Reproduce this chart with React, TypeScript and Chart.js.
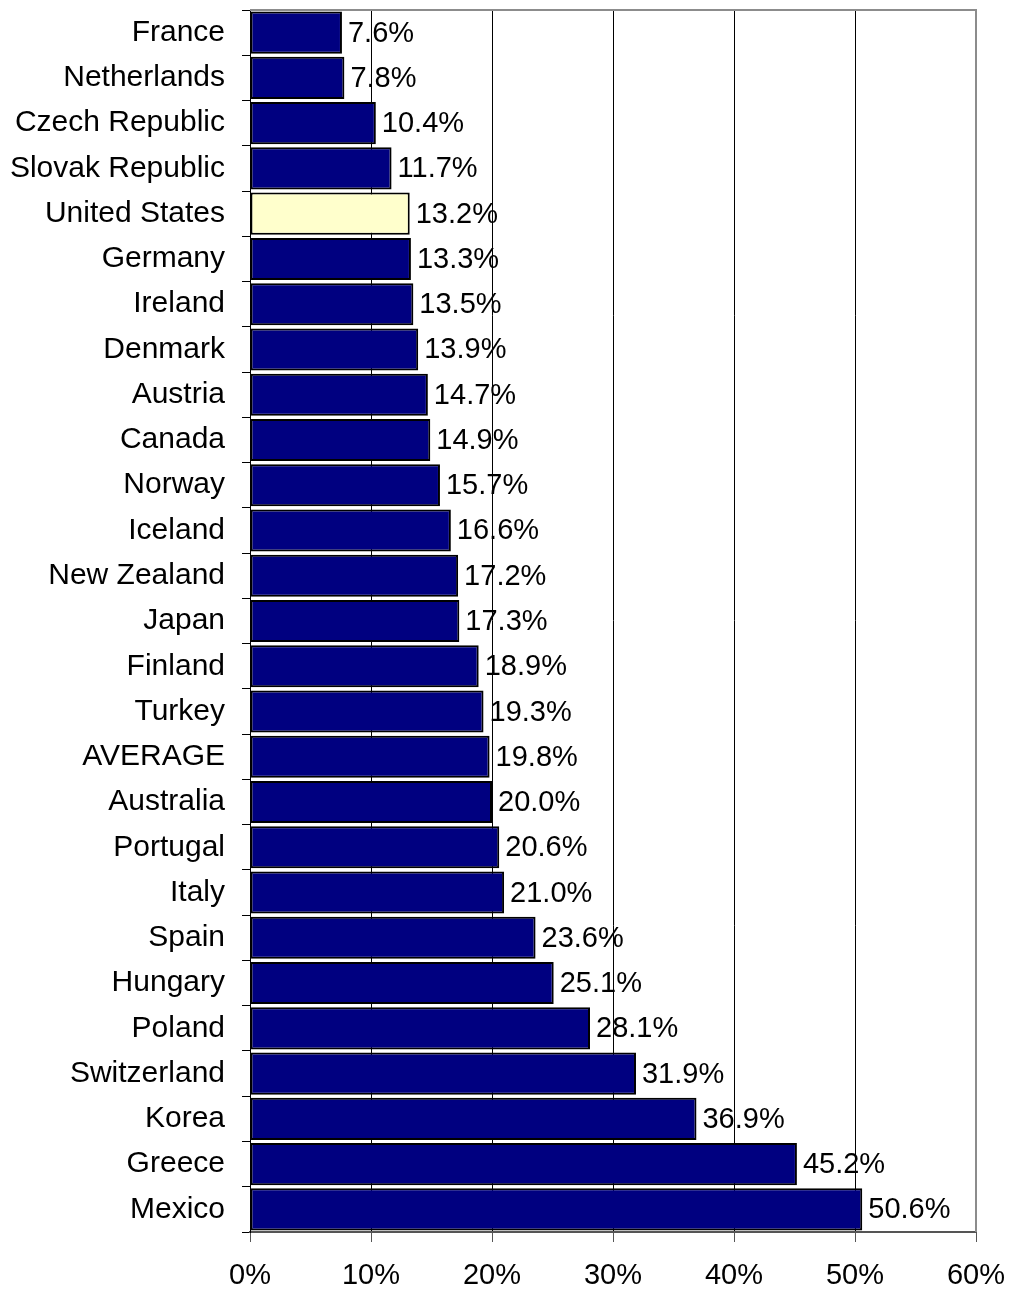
import React, { useEffect, useRef } from "react";
import { Chart, registerables } from "chart.js";

Chart.register(...registerables);

const categories = [
  "France", "Netherlands", "Czech Republic", "Slovak Republic", "United States",
  "Germany", "Ireland", "Denmark", "Austria", "Canada", "Norway", "Iceland",
  "New Zealand", "Japan", "Finland", "Turkey", "AVERAGE", "Australia", "Portugal",
  "Italy", "Spain", "Hungary", "Poland", "Switzerland", "Korea", "Greece", "Mexico",
];
const values = [
  7.6, 7.8, 10.4, 11.7, 13.2, 13.3, 13.5, 13.9, 14.7, 14.9, 15.7, 16.6,
  17.2, 17.3, 18.9, 19.3, 19.8, 20.0, 20.6, 21.0, 23.6, 25.1, 28.1, 31.9,
  36.9, 45.2, 50.6,
];
const highlight = "United States";
const xMin = 0;
const xMax = 60;
const xStep = 10;

const FONT = "'Liberation Sans', Arial, sans-serif";

const labelPlugin = {
  id: "valueLabels",
  afterDatasetsDraw(chart: any) {
    const ctx = chart.ctx;
    const meta = chart.getDatasetMeta(0);
    ctx.save();
    ctx.font = `29px ${FONT}`;
    ctx.fillStyle = "#000";
    ctx.textAlign = "left";
    ctx.textBaseline = "middle";
    meta.data.forEach((el: any, i: number) => {
      ctx.fillText(values[i].toFixed(1) + "%", el.x + 6, el.y + 1);
    });
    ctx.restore();
  },
  afterDraw(chart: any) {
    const { ctx, chartArea } = chart;
    ctx.save();
    ctx.strokeStyle = "#8c8c8c";
    ctx.lineWidth = 2;
    ctx.beginPath();
    ctx.moveTo(chartArea.left, chartArea.top);
    ctx.lineTo(chartArea.right, chartArea.top);
    ctx.lineTo(chartArea.right, chartArea.bottom);
    ctx.stroke();
    ctx.restore();
  },
};

export default function App() {
  const ref = useRef<HTMLCanvasElement>(null);
  useEffect(() => {
    if (!ref.current) return;
    const chart = new Chart(ref.current, {
      type: "bar",
      data: {
        labels: categories,
        datasets: [
          {
            data: values,
            backgroundColor: categories.map((c) => (c === highlight ? "#FFFFCC" : "#000080")),
            borderColor: "#000",
            borderWidth: 2,
            borderSkipped: false,
            barPercentage: 0.93,
            categoryPercentage: 1,
          },
        ],
      },
      options: {
        indexAxis: "y",
        animation: false,
        responsive: false,
        maintainAspectRatio: false,
        layout: { padding: { top: 10, right: 35, left: 0, bottom: 0 } },
        plugins: { legend: { display: false }, tooltip: { enabled: false } },
        scales: {
          x: {
            min: xMin,
            max: xMax,
            ticks: {
              stepSize: xStep,
              callback: (v: any) => v + "%",
              font: { size: 29, family: FONT },
              color: "#000",
              padding: 17,
              maxRotation: 0,
            },
            grid: { color: "#000", lineWidth: 1, tickLength: 10, tickColor: "#555" },
            border: { color: "#555", width: 2 },
            afterFit: (s: any) => {
              s.height = 60;
              s.paddingLeft = 0;
              s.paddingRight = 0;
            },
          },
          y: {
            ticks: {
              font: { size: 30, family: FONT },
              color: "#000",
              padding: 17,
              autoSkip: false,
            },
            grid: { drawOnChartArea: false, tickLength: 8, color: "#000", offset: true },
            border: { color: "#000", width: 1 },
            afterFit: (s: any) => {
              s.width = 250;
              s.paddingTop = 0;
              s.paddingBottom = 0;
            },
          },
        },
      },
      plugins: [labelPlugin],
    } as any);
    return () => chart.destroy();
  }, []);
  return (
    <div style={{ position: "absolute", left: 0, top: 0, width: 1011, height: 1292, background: "#fff" }}>
      <canvas ref={ref} width={1011} height={1292} />
    </div>
  );
}
